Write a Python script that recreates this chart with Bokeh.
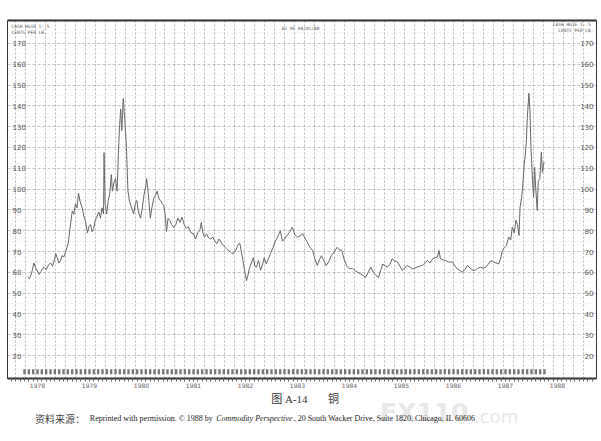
from bokeh.plotting import figure
from bokeh.models import FixedTicker, LinearAxis, Grid, Range1d, ColumnDataSource, Label
from bokeh.layouts import column
from bokeh.embed import file_html
from bokeh.resources import INLINE
from bokeh.core.properties import value

# ---------------- data (cash copper, cents per lb) ----------------
dates = [
    1978.31, 1978.35, 1978.40, 1978.43, 1978.47, 1978.53, 1978.57, 1978.62, 1978.67, 1978.71,
    1978.75, 1978.79, 1978.83, 1978.85, 1978.88, 1978.91, 1978.95, 1978.97, 1979.01, 1979.05,
    1979.09, 1979.12, 1979.15, 1979.17, 1979.20, 1979.23, 1979.26, 1979.29, 1979.32, 1979.36,
    1979.39, 1979.42, 1979.46, 1979.49, 1979.52, 1979.55, 1979.58, 1979.61, 1979.64, 1979.68,
    1979.71, 1979.74, 1979.77, 1979.78, 1979.80, 1979.83, 1979.86, 1979.89, 1979.92, 1979.94,
    1979.97, 1980.00, 1980.03, 1980.06, 1980.08, 1980.10, 1980.12, 1980.15, 1980.18, 1980.21,
    1980.24, 1980.27, 1980.31, 1980.35, 1980.38, 1980.41, 1980.44, 1980.48, 1980.51, 1980.55,
    1980.58, 1980.60, 1980.63, 1980.67, 1980.70, 1980.74, 1980.77, 1980.80, 1980.84, 1980.87,
    1980.90, 1980.93, 1980.96, 1980.98, 1981.01, 1981.04, 1981.08, 1981.12, 1981.16, 1981.20,
    1981.24, 1981.28, 1981.32, 1981.36, 1981.40, 1981.45, 1981.50, 1981.54, 1981.58, 1981.62,
    1981.65, 1981.68, 1981.71, 1981.75, 1981.79, 1981.83, 1981.87, 1981.91, 1981.95, 1981.99,
    1982.03, 1982.07, 1982.11, 1982.15, 1982.20, 1982.24, 1982.28, 1982.32, 1982.36, 1982.39,
    1982.42, 1982.45, 1982.49, 1982.52, 1982.55, 1982.58, 1982.62, 1982.65, 1982.68, 1982.71,
    1982.75, 1982.79, 1982.83, 1982.86, 1982.90, 1982.94, 1982.98, 1983.03, 1983.08, 1983.12,
    1983.17, 1983.21, 1983.25, 1983.29, 1983.34, 1983.40, 1983.45, 1983.50, 1983.55, 1983.60,
    1983.65, 1983.69, 1983.74, 1983.79, 1983.84, 1983.88, 1983.92, 1983.96, 1984.00, 1984.05,
    1984.10, 1984.15, 1984.20, 1984.26, 1984.30, 1984.35, 1984.40, 1984.45, 1984.50, 1984.56,
    1984.60, 1984.66, 1984.71, 1984.76, 1984.81, 1984.86, 1984.91, 1984.96, 1985.01, 1985.06,
    1985.10, 1985.14, 1985.19, 1985.23, 1985.28, 1985.32, 1985.37, 1985.42, 1985.47, 1985.51,
    1985.56, 1985.61, 1985.66, 1985.71, 1985.75, 1985.80, 1985.85, 1985.90, 1985.95, 1986.00,
    1986.05, 1986.10, 1986.15, 1986.19, 1986.22, 1986.25, 1986.30, 1986.35, 1986.40, 1986.44,
    1986.48, 1986.53, 1986.57, 1986.62, 1986.67, 1986.72, 1986.77, 1986.82, 1986.87, 1986.92,
    1986.97, 1987.02, 1987.07, 1987.12, 1987.17, 1987.22, 1987.27, 1987.32, 1987.37, 1987.41,
    1987.44, 1987.48, 1987.52, 1987.56, 1987.60, 1987.63, 1987.67, 1987.70, 1987.73, 1987.76,
    1987.78, 1987.81, 1987.83, 1987.86, 1987.88, 1987.90, 1987.92, 1987.95, 1987.97, 1987.99,
    1988.02, 1988.04, 1988.06, 1988.08, 1988.11, 1988.13, 1988.16, 1988.19, 1988.21, 1988.24,
]
price = [
    58, 57, 61, 64.5, 62, 59, 60.5, 62.5, 61.5, 63.5,
    64.5, 63, 66.5, 69, 67, 64.5, 66, 68, 67.5, 70.5,
    74, 80, 86, 89.5, 88, 93, 91, 98, 94, 91,
    87, 85, 79, 82, 83, 79.5, 81, 85, 86.5, 89,
    86, 91, 88, 117.5, 93, 88, 94.5, 98, 107, 99,
    103, 105, 99, 120, 131, 138.5, 128, 143.5, 133, 120,
    99, 94, 91, 88, 93, 94.5, 89, 86, 90, 97.5,
    101, 105, 98, 86, 91, 96, 97, 99, 95, 94.5,
    93, 92, 86.5, 79.5, 86, 85, 83, 81.5, 83, 86,
    84, 86.5, 83, 81, 82, 79, 78.5, 76, 79, 80,
    84, 79, 77, 78.5, 76.5, 76, 77, 75, 73.8, 76,
    74.5, 73, 72, 71, 70, 69, 69.5, 71, 73.5, 74,
    70, 65.7, 60, 56, 59, 62.4, 65, 67, 63, 62.4,
    65.7, 61, 64, 67, 64, 66.5, 69, 72, 75.3, 77,
    80, 75, 76, 77.5, 79, 81.7, 78, 77, 77.5, 78.6,
    76, 74.5, 72, 70.5, 66, 63.3, 66, 68, 66, 63.3,
    65, 68, 69.5, 72, 71, 70.5, 66, 63, 61.7, 62,
    61, 60, 59.3, 58.5, 57.6, 60, 62.5, 60, 58.5, 57.6,
    61, 64, 63, 62.5, 64, 66.5, 65.5, 65, 63, 61,
    62, 63.3, 62.5, 61.7, 62, 62.5, 63, 63.3, 64.5, 65.7,
    64.5, 66.5, 67, 67.3, 70.5, 66.5, 66, 65.7, 65, 64.9,
    65, 63, 61.7, 61, 60, 61.5, 63.3, 62, 61, 61,
    62, 62.5, 62, 62.5, 64, 65.7, 65, 64.5, 64, 67,
    70.5, 72, 73, 77, 75.5, 81.7, 79, 85, 83, 77.7,
    91.3, 96, 101, 112, 116, 122.5, 134.6, 146, 137.8, 120,
    104, 96, 110.5, 101, 89.7, 104, 105, 117.7, 108, 113,
]

price_ticks = [20, 30, 40, 50, 60, 70, 80, 90, 100, 110, 120, 130, 140, 150, 160, 170]
price_labels = [str(v) for v in price_ticks]
minor_price_ticks = [25, 35, 45, 55, 65, 75, 85, 95, 105, 115, 125, 135, 145, 155, 165, 175]
year_ticks = [1978.5, 1979.5, 1980.5, 1981.5, 1982.5, 1983.5, 1984.5, 1985.5, 1986.5, 1987.5, 1988.5]
year_labels = ["1978", "1979", "1980", "1981", "1982", "1983", "1984", "1985", "1986", "1987", "1988"]

X_START, X_END = 1977.923, 1989.25
Y_START, Y_END = 9, 181

month_ticks = [1978 + m / 12 for m in range(0, 12 * 11 + 3)]
ten_week_grid = [1978.077 + i * 10 / 52.18 for i in range(58)]
contract_marks = [1978.25 + m / 12 for m in range(0, 121)]

# ---------------- chart ----------------
p = figure(width=601, height=392, x_range=Range1d(X_START, X_END), y_range=Range1d(Y_START, Y_END),
           x_axis_type=None, y_axis_type=None, output_backend="svg", toolbar_location=None,
           min_border_left=7, min_border_right=5, min_border_top=20, min_border_bottom=14,
           outline_line_color="#333333", outline_line_width=1, background_fill_color="white",
           border_fill_color="white")

p.add_layout(Grid(dimension=0, ticker=FixedTicker(ticks=ten_week_grid), grid_line_color="#9a9a9a",
                  grid_line_dash="2 2", grid_line_width=0.7))
p.add_layout(Grid(dimension=1, ticker=FixedTicker(ticks=price_ticks, minor_ticks=minor_price_ticks),
                  grid_line_color="#a8a8a8", grid_line_dash="3 2", grid_line_width=0.7,
                  minor_grid_line_color="#d2d2d2", minor_grid_line_dash="1 3", minor_grid_line_width=0.6))

xaxis = LinearAxis(ticker=FixedTicker(ticks=year_ticks, minor_ticks=month_ticks),
                   major_label_overrides={t: l for t, l in zip(year_ticks, year_labels)},
                   axis_line_width=2, axis_line_color="#333333",
                   major_tick_line_color=None, major_tick_out=3, major_tick_in=0,
                   minor_tick_line_color="#666666", minor_tick_out=3, minor_tick_in=0,
                   major_label_standoff=1, major_label_text_font_size="6px",
                   major_label_text_color="#666666", major_label_text_font="DejaVu Sans")
p.add_layout(xaxis, "below")

top_axis = LinearAxis(ticker=FixedTicker(ticks=[]), axis_line_width=2, axis_line_color="#333333",
                      major_tick_line_color=None, minor_tick_line_color=None,
                      major_label_text_font_size="0px")
p.add_layout(top_axis, "above")

# price line
p.line(dates, price, line_color="#666666", line_width=1.0)

# contract-month markers along the bottom
p.rect(x=contract_marks, y=[12.2] * len(contract_marks), width=2.4, height=5,
       width_units="screen", height_units="screen", fill_color="#777777", line_color=None)

# inner price labels (left and right)
lab_src_l = ColumnDataSource(dict(x=[X_START] * len(price_ticks), y=price_ticks, t=price_labels))
p.text(x="x", y="y", text="t", source=lab_src_l, x_offset=5, text_baseline="middle",
       text_align="left", text_font_size="7px", text_color="#555555", text_font=value("DejaVu Sans"))
lab_src_r = ColumnDataSource(dict(x=[X_END] * len(price_ticks), y=price_ticks, t=price_labels))
p.text(x="x", y="y", text="t", source=lab_src_r, x_offset=-3, text_baseline="middle",
       text_align="right", text_font_size="7px", text_color="#555555", text_font=value("DejaVu Sans"))

# header texts
hdr = dict(x_units="screen", y_units="screen", text_font_size="4.5px", text_color="#555555",
           text_font="DejaVu Sans Mono", text_baseline="middle")
p.add_layout(Label(x=4, y=352, text="CASH HG1E  1-.5", **hdr))
p.add_layout(Label(x=4, y=346, text="CENTS PER LB.", **hdr))
p.add_layout(Label(x=586, y=354, text="CASH HG1E  1-.5", text_align="right", **hdr))
p.add_layout(Label(x=586, y=348, text="CENTS PER LB.", text_align="right", **hdr))
p.add_layout(Label(x=274, y=350, text="AS OF 04/01/88", **hdr))

# ---------------- caption area ----------------
CAP_H = 49
c = figure(width=601, height=CAP_H, x_range=Range1d(0, 601), y_range=Range1d(0, CAP_H),
           x_axis_type=None, y_axis_type=None, output_backend="svg", toolbar_location=None,
           min_border=0, outline_line_color=None, background_fill_color="white",
           border_fill_color="white")
c.add_layout(Label(x=380, y=15, text="FX110", text_font_size="25px", text_font_style="bold",
                   text_color="#e8e8e8", text_font="DejaVu Sans", text_baseline="bottom"))
c.add_layout(Label(x=476, y=15, text=".com", text_font_size="18px",
                   text_color="#e8e8e8", text_font="DejaVu Sans", text_baseline="bottom"))
serif_cjk = "'Liberation Serif', 'Noto Sans CJK SC'"
c.add_layout(Label(x=269, y=43, text="图 A-14", text_font_size="11px", text_color="#333333",
                   text_font=serif_cjk, text_baseline="middle"))
c.add_layout(Label(x=327, y=43, text="铜", text_font_size="11px", text_color="#333333",
                   text_font=serif_cjk, text_baseline="middle"))
c.add_layout(Label(x=28, y=23, text="资料来源：", text_font_size="10px", text_color="#444444",
                   text_font="Noto Sans CJK SC", text_baseline="middle"))
c.add_layout(Label(x=84, y=23, text="Reprinted with permission. © 1988 by", text_font_size="8px",
                   text_color="#222222", text_font="Liberation Serif", text_baseline="middle"))
c.add_layout(Label(x=213, y=23, text="Commodity Perspective", text_font_size="8px",
                   text_font_style="italic", text_color="#222222", text_font="Liberation Serif",
                   text_baseline="middle"))
c.add_layout(Label(x=292, y=23, text=", 20 South Wacker Drive, Suite 1820, Chicago, IL 60606",
                   text_font_size="8px", text_color="#222222", text_font="Liberation Serif",
                   text_baseline="middle"))

layout = column(p, c, spacing=0)
open("out.html", "w").write(file_html(layout, INLINE))
